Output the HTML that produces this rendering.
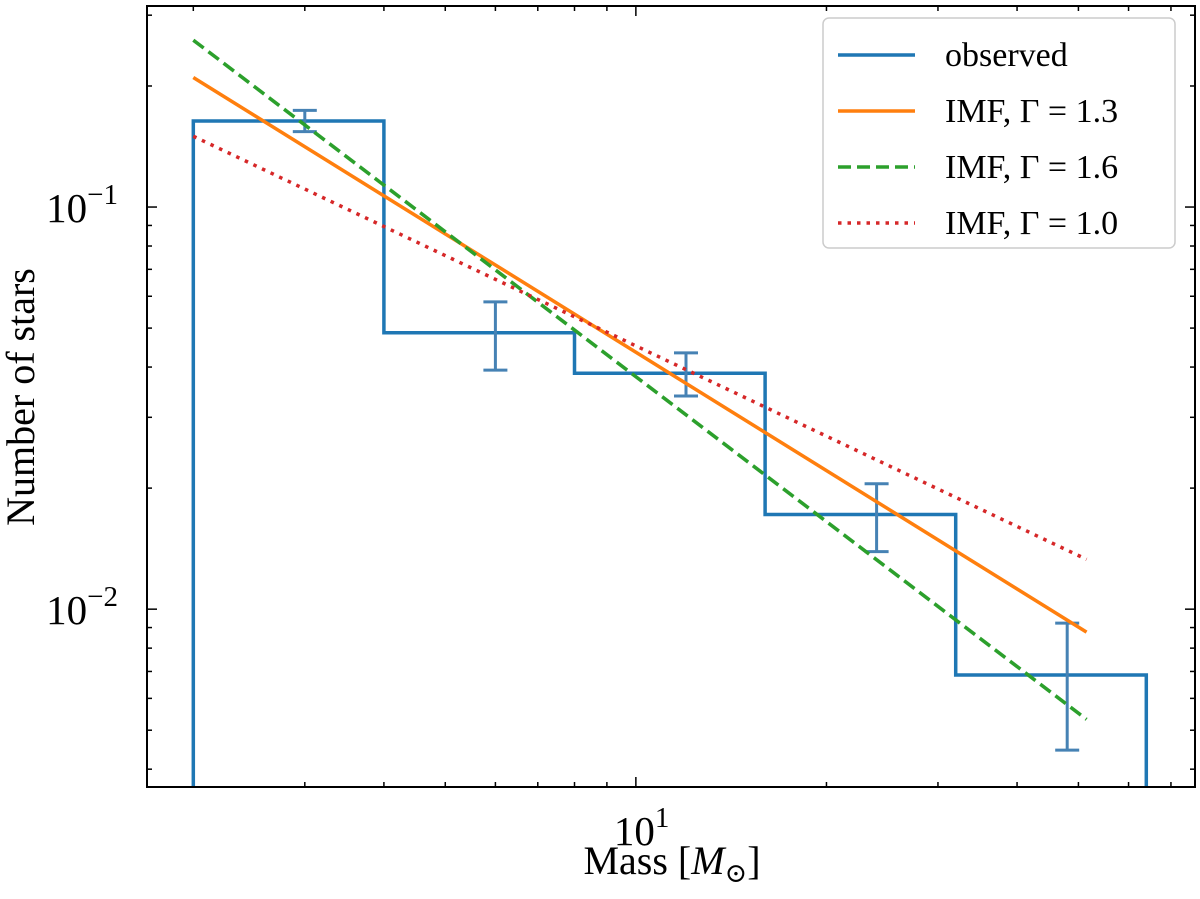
<!DOCTYPE html>
<html><head><meta charset="utf-8"><style>
body{margin:0;background:#fff}
svg text{font-family:"Liberation Serif","DejaVu Serif",serif;fill:#000}
</style></head><body>
<svg id="chart" width="1200" height="894" xmlns="http://www.w3.org/2000/svg"></svg>
<script>
const binEdges=[2,4,8,16,32,64];
const binCounts=[0.1637,0.0487,0.0386,0.0172,0.00686];
const errCenters=[3,6,12,24,48];
const errHigh=[0.174,0.0581,0.0434,0.0205,0.00923];
const errLow=[0.154,0.0393,0.0339,0.0139,0.00446];
const lineX=[2,51.5];
const imf13=[0.210,0.00877];
const imf16=[0.260,0.00532];
const imf10=[0.150,0.0133];
const yTicks=[0.01,0.1];
const xTicks=[10];

const L=147,R=1195,T=6,B=787;
const x0=Math.log10(1.69),x1=Math.log10(76.4);
const y0=Math.log10(0.003612),y1=Math.log10(0.3162);
const X=v=>L+(Math.log10(v)-x0)/(x1-x0)*(R-L);
const Y=v=>B-(Math.log10(v)-y0)/(y1-y0)*(B-T);
const svg=document.getElementById('chart');
const NS='http://www.w3.org/2000/svg';
function mk(tag,attrs,parent){const e=document.createElementNS(NS,tag);for(const k in attrs)e.setAttribute(k,attrs[k]);(parent||svg).appendChild(e);return e;}

const ticks=mk('g',{stroke:'#000','stroke-width':1.5});


for(let d=-3;d<=0;d++)for(let m=1;m<10;m++){const v=m*Math.pow(10,d);if(v<0.003612||v>0.3162)continue;const y=Y(v);const len=m==1?10:5;
mk('line',{x1:L,x2:L+len,y1:y,y2:y},ticks);mk('line',{x1:R,x2:R-len,y1:y,y2:y},ticks);}
for(let d=0;d<=1;d++)for(let m=1;m<10;m++){const v=m*Math.pow(10,d);if(v<1.69||v>76.4)continue;const x=X(v);const len=m==1?10:5;
mk('line',{x1:x,x2:x,y1:B,y2:B-len},ticks);mk('line',{x1:x,x2:x,y1:T,y2:T+len},ticks);}

let d=`M${X(binEdges[0])},${B}`;
binCounts.forEach((c,i)=>{d+=` L${X(binEdges[i])},${Y(c)} L${X(binEdges[i+1])},${Y(c)}`;});
d+=` L${X(binEdges[binEdges.length-1])},${B}`;
const hist=mk('path',{d:d,fill:'none',stroke:'#1f77b4','stroke-width':3.5});



errCenters.forEach((c,i)=>{const g=mk('g',{stroke:'#4682b4','stroke-width':3});


const x=X(c);mk('line',{x1:x,x2:x,y1:Y(errHigh[i]),y2:Y(errLow[i])},g);
mk('line',{x1:x-12,x2:x+12,y1:Y(errHigh[i]),y2:Y(errHigh[i])},g);
mk('line',{x1:x-12,x2:x+12,y1:Y(errLow[i]),y2:Y(errLow[i])},g);});

function imfLine(vals,color,dash,name){const l=mk('line',{x1:X(lineX[0]),y1:Y(vals[0]),x2:X(lineX[1]),y2:Y(vals[1]),stroke:color,'stroke-width':3.5,'stroke-dasharray':dash});

}
imfLine(imf13,'#ff7f0e','none','imf-line-1-3');
imfLine(imf16,'#2ca02c','13,6','imf-line-1-6');
imfLine(imf10,'#d62728','3.5,6','imf-line-1-0');

const fr=mk('rect',{x:L,y:T,width:R-L,height:B-T,fill:'none',stroke:'#000','stroke-width':2});



yTicks.forEach(v=>{const e=Math.round(Math.log10(v));const t=mk('text',{x:118,y:Y(v)+15,'font-size':41,'text-anchor':'end'});


t.innerHTML=`10<tspan dy="-18" font-size="29">−${-e}</tspan>`;});
xTicks.forEach(v=>{const t=mk('text',{x:X(v)-22,y:845,'font-size':41});


t.innerHTML=`10<tspan dy="-18" font-size="29">1</tspan>`;});

const xl=mk('text',{x:672,y:874,'font-size':40,'text-anchor':'middle'});


xl.innerHTML='Mass [<tspan font-style="italic">M</tspan><tspan font-size="27" dy="8">⊙</tspan><tspan dy="-8">]</tspan>';
const yl=mk('text',{x:0,y:0,'font-size':40,'text-anchor':'middle',transform:'translate(34,397) rotate(-90)'});


yl.textContent='Number of stars';

const lg=mk('g',{});


mk('rect',{x:823,y:18,width:352,height:230,rx:6,fill:'#fff','fill-opacity':0.8,stroke:'#ccc','stroke-width':1.5},lg);
const entries=[['observed','#1f77b4','none'],['IMF, Γ = 1.3','#ff7f0e','none'],['IMF, Γ = 1.6','#2ca02c','13,6'],['IMF, Γ = 1.0','#d62728','3.5,6']];
entries.forEach((en,i)=>{const y=55+i*56;const g=mk('g',{},lg);


mk('line',{x1:838,x2:915,y1:y,y2:y,stroke:en[1],'stroke-width':3.5,'stroke-dasharray':en[2]},g);
const t=mk('text',{x:945,y:y+11,'font-size':34},g);t.textContent=en[0];});
</script>
</body></html>
